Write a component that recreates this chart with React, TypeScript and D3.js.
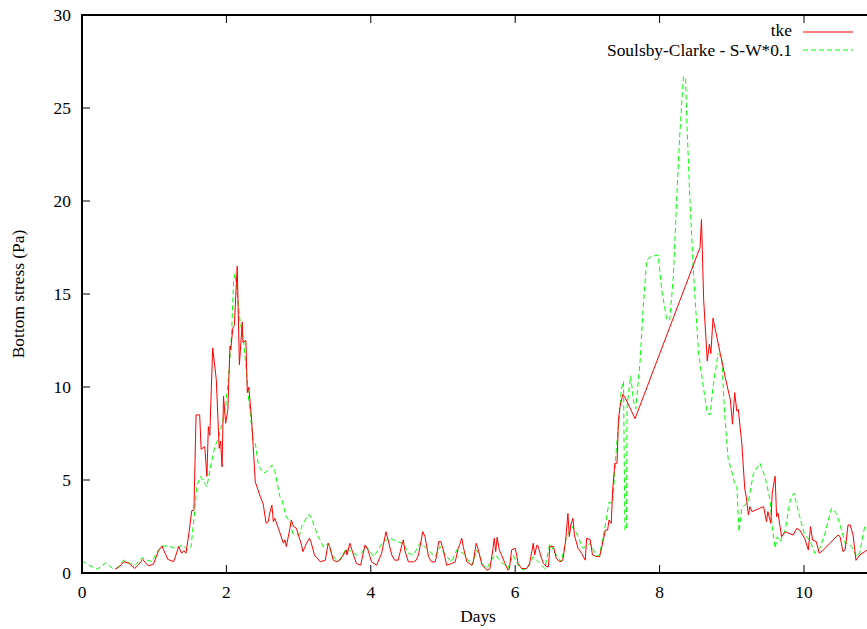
import React from "react";
import * as d3 from "d3";

const tkeDays = [0.46,0.52,0.58,0.65,0.73,0.78,0.84,0.92,0.99,1.06,1.11,1.13,1.19,1.27,1.34,1.38,1.41,1.44,1.48,1.52,1.55,1.58,1.63,1.65,1.70,1.73,1.75,1.77,1.81,1.86,1.90,1.92,1.94,1.96,1.99,2.02,2.05,2.06,2.09,2.11,2.15,2.18,2.22,2.23,2.27,2.29,2.31,2.35,2.40,2.47,2.51,2.55,2.58,2.60,2.63,2.65,2.67,2.72,2.79,2.81,2.83,2.88,2.90,2.93,2.97,3.04,3.06,3.11,3.15,3.17,3.22,3.30,3.37,3.41,3.43,3.48,3.53,3.57,3.62,3.66,3.67,3.71,3.76,3.80,3.86,3.92,3.96,4.01,4.08,4.15,4.21,4.24,4.29,4.33,4.38,4.43,4.45,4.47,4.52,4.59,4.63,4.66,4.72,4.75,4.80,4.84,4.89,4.91,4.94,4.97,5.01,5.05,5.12,5.17,5.21,5.23,5.26,5.28,5.33,5.40,5.42,5.46,5.49,5.54,5.61,5.65,5.69,5.71,5.73,5.75,5.78,5.81,5.86,5.90,5.92,5.95,6.00,6.02,6.04,6.09,6.16,6.20,6.23,6.25,6.27,6.30,6.32,6.35,6.39,6.44,6.46,6.48,6.53,6.57,6.62,6.66,6.70,6.73,6.75,6.77,6.80,6.82,6.87,6.92,6.97,6.99,7.04,7.07,7.13,7.17,7.22,7.25,7.28,7.30,7.33,7.35,7.38,7.41,7.43,7.45,7.49,7.52,7.66,8.56,8.58,8.61,8.66,8.69,8.71,8.74,8.84,8.91,8.98,9.01,9.04,9.07,9.09,9.14,9.18,9.20,9.23,9.25,9.28,9.44,9.48,9.50,9.54,9.56,9.60,9.62,9.64,9.69,9.74,9.85,9.90,9.94,10.01,10.06,10.09,10.12,10.17,10.21,10.27,10.47,10.50,10.54,10.57,10.61,10.64,10.68,10.72,10.77,10.90];
const tkeValues = [0.2,0.35,0.61,0.52,0.25,0.43,0.73,0.38,0.48,1.2,1.45,1.24,0.73,0.61,1.42,1.06,1.2,1.06,2.1,3.35,3.38,8.5,8.5,6.65,6.8,5.2,7.87,7.4,12.1,10.4,6.7,7.1,5.7,9.5,8.05,8.8,12.2,12.0,13.2,13.3,16.5,11.2,13.5,12.4,12.5,9.7,10.0,8.2,4.9,4.1,3.7,2.67,2.76,3.21,3.65,2.76,2.94,2.4,1.6,1.78,1.42,2.4,2.85,2.5,2.4,1.51,1.15,1.6,1.87,1.69,0.97,0.6,0.69,1.6,1.42,0.69,0.6,0.69,0.97,1.24,0.97,1.6,0.97,0.51,0.42,1.51,1.24,0.6,0.42,1.06,2.22,1.78,0.97,0.69,0.69,1.51,1.78,1.24,0.6,0.6,0.69,0.97,2.22,1.96,0.88,0.6,0.6,0.88,1.69,1.69,1.15,0.42,0.51,0.6,1.33,1.51,1.87,1.42,0.6,0.42,0.6,1.6,1.24,0.42,0.15,0.24,1.24,1.87,1.15,1.92,1.24,0.97,0.51,0.15,0.24,1.24,1.33,0.97,0.51,0.24,0.24,0.51,1.15,1.6,0.97,1.51,1.42,0.97,0.51,0.33,0.33,1.42,1.42,0.78,0.6,0.69,1.78,3.2,1.96,2.58,2.94,2.04,1.33,1.06,0.69,1.87,1.78,0.97,0.88,0.88,1.78,2.31,2.31,2.85,2.67,4.46,5.9,5.9,8.2,8.9,9.6,9.45,8.3,17.5,19.0,14.7,11.4,12.3,11.8,13.7,11.8,10.5,9.3,8.0,9.7,8.7,8.8,6.9,4.5,4.1,3.12,3.57,3.3,3.57,2.76,3.3,2.67,4.3,5.2,3.03,3.21,1.95,2.22,2.04,2.4,2.31,1.86,1.24,2.49,1.77,1.69,1.06,1.24,2.04,1.95,1.15,1.24,2.58,2.58,2.04,0.68,0.96,1.3];

const scDays = [0.00,0.09,0.21,0.33,0.42,0.48,0.58,0.67,0.74,0.83,0.90,0.97,1.04,1.11,1.20,1.29,1.39,1.47,1.51,1.55,1.59,1.64,1.69,1.73,1.78,1.84,1.89,1.94,1.99,2.03,2.07,2.10,2.12,2.16,2.19,2.24,2.27,2.31,2.33,2.37,2.40,2.44,2.47,2.51,2.54,2.63,2.67,2.74,2.77,2.83,2.88,2.92,2.97,3.02,3.04,3.13,3.15,3.18,3.22,3.27,3.30,3.34,3.37,3.41,3.47,3.53,3.57,3.64,3.66,3.73,3.80,3.87,3.94,4.04,4.10,4.17,4.27,4.36,4.45,4.52,4.59,4.63,4.68,4.70,4.77,4.89,4.96,5.03,5.12,5.19,5.28,5.40,5.47,5.56,5.61,5.67,5.72,5.81,5.90,5.97,6.04,6.11,6.18,6.25,6.32,6.41,6.48,6.55,6.64,6.71,6.80,6.87,6.94,7.04,7.13,7.17,7.24,7.30,7.35,7.40,7.43,7.47,7.50,7.52,7.54,7.55,7.60,7.64,7.67,7.73,7.77,7.82,7.87,7.98,8.03,8.10,8.14,8.19,8.24,8.28,8.33,8.36,8.38,8.42,8.47,8.54,8.61,8.66,8.70,8.74,8.81,8.86,8.90,8.95,8.99,9.04,9.07,9.10,9.14,9.18,9.23,9.30,9.39,9.46,9.53,9.56,9.60,9.63,9.67,9.74,9.81,9.86,9.94,10.01,10.08,10.15,10.22,10.29,10.38,10.45,10.52,10.57,10.61,10.66,10.73,10.77,10.84,10.90];
const scValues = [0.65,0.43,0.2,0.55,0.25,0.25,0.7,0.52,0.43,0.82,0.7,0.61,1.15,1.45,1.45,1.33,1.51,1.24,1.42,2.85,4.64,5.2,4.9,4.64,5.7,6.8,7.25,8.05,8.94,10.56,12.7,15.7,16.1,14.7,13.5,12.5,11.1,9.3,8.58,7.15,6.97,5.9,5.6,5.4,5.4,5.8,5.5,4.1,3.92,3.0,2.76,2.13,2.04,2.1,2.49,3.12,3.12,2.94,2.49,1.95,1.77,1.41,1.42,1.6,0.95,0.65,0.7,1.2,1.33,1.15,0.97,1.06,1.42,0.88,1.24,1.69,1.87,1.69,1.6,1.06,0.97,1.24,1.6,1.6,1.33,0.88,1.42,0.97,0.6,1.24,1.06,0.42,1.24,0.42,0.24,0.69,0.97,0.6,0.24,0.97,0.42,0.15,0.33,0.88,0.6,0.24,1.6,1.06,0.6,1.96,2.49,1.96,1.33,1.6,0.88,1.0,2.4,3.8,3.76,6.63,7.89,9.86,10.3,2.31,2.31,8.99,10.6,9.2,8.82,11.4,14.1,16.8,17.0,17.1,15.2,13.6,13.6,15.9,20.4,23.6,26.7,26.6,24.0,20.05,16.1,11.8,9.9,8.6,8.5,10.0,11.8,11.6,8.6,6.1,5.6,4.8,4.65,2.22,3.48,3.66,3.84,5.36,5.9,5.18,3.93,2.49,1.33,1.95,1.69,2.31,3.93,4.3,3.03,2.04,1.77,1.06,1.33,2.13,3.48,3.21,2.31,1.6,1.6,1.42,0.88,1.06,2.49,2.6];

const xTicks = [0, 2, 4, 6, 8, 10];
const yTicks = [0, 5, 10, 15, 20, 25, 30];
const seriesNames = ["tke", "Soulsby-Clarke - S-W*0.1"];

const W = 867, H = 629;
const left = 82, top = 15, bottom = 573;
const font = "'Liberation Serif', 'Times New Roman', serif";
const fs = 17.4;

export default function App() {
  const x = d3.scaleLinear().domain([0, 11]).range([left, left + 11 * 72.2]);
  const y = d3.scaleLinear().domain([0, 30]).range([bottom, top]);
  const right = x(11);
  const line = d3.line<[number, number]>().x(d => x(d[0])).y(d => y(d[1]));
  const tke = tkeDays.map((d, i) => [d, tkeValues[i]] as [number, number]);
  const sc = scDays.map((d, i) => [d, scValues[i]] as [number, number]);
  return (
    <svg width={W} height={H} style={{ position: "absolute", left: 0, top: 0, background: "#fff" }} fontFamily={font}>
      <defs>
        <clipPath id="plot"><rect x={left} y={top} width={right - left} height={bottom - top} /></clipPath>
      </defs>
      <rect x={0} y={0} width={W} height={H} fill="#fff" />
      <g clipPath="url(#plot)">
        <path d={line(sc) || ""} fill="none" stroke="#00ff00" strokeWidth={1} strokeDasharray="5,3" />
        <path d={line(tke) || ""} fill="none" stroke="#ff0000" strokeWidth={1} />
      </g>
      {xTicks.map(t => (
        <g key={"x" + t}>
          <line x1={x(t)} x2={x(t)} y1={bottom} y2={bottom - 8} stroke="#000" strokeWidth={1} />
          <line x1={x(t)} x2={x(t)} y1={top} y2={top + 8} stroke="#000" strokeWidth={1} />
          <text x={x(t)} y={598} textAnchor="middle" fontSize={fs} fill="#000">{t}</text>
        </g>
      ))}
      {yTicks.map(t => (
        <g key={"y" + t}>
          <line x1={left} x2={left + 8} y1={y(t)} y2={y(t)} stroke="#000" strokeWidth={1} />
          <line x1={right} x2={right - 8} y1={y(t)} y2={y(t)} stroke="#000" strokeWidth={1} />
          <text x={71} y={y(t) + 6} textAnchor="end" fontSize={fs} fill="#000">{t}</text>
        </g>
      ))}
      <path d={`M${right},${top}H${left}V${bottom}H${right}V${top}`} fill="none" stroke="#000" strokeWidth={2} />
      <text x={478} y={622} textAnchor="middle" fontSize={fs} fill="#000">Days</text>
      <text transform={`translate(24,294) rotate(-90)`} textAnchor="middle" fontSize={fs} fill="#000">Bottom stress (Pa)</text>
      <text x={792} y={35.5} textAnchor="end" fontSize={fs} fill="#000">{seriesNames[0]}</text>
      <line x1={803} x2={853} y1={32} y2={32} stroke="#ff0000" strokeWidth={1.2} />
      <text x={792} y={55.5} textAnchor="end" fontSize={fs} fill="#000">{seriesNames[1]}</text>
      <line x1={803} x2={853} y1={50} y2={50} stroke="#00ff00" strokeWidth={1.2} strokeDasharray="5,3" />
    </svg>
  );
}
